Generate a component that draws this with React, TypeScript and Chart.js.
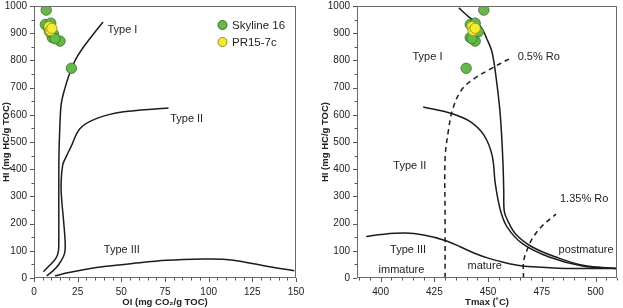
import React, { useEffect, useRef } from 'react';
import { Chart, registerables } from 'chart.js';

Chart.register(...registerables);

const FONT = '"Liberation Sans", Arial, Helvetica, sans-serif';
const INK = '#1c1c1c';
const TEXT = '#222222';
const GREEN = '#66b84a';
const GREEN_EDGE = '#3a6b28';
const YELLOW = '#f4ec2e';
const YELLOW_EDGE = '#8c8a2c';

// ---------------- Left panel: HI vs OI ----------------
const skylineOI = [7.0, 6.5, 9.6, 8.2, 11.1, 10.5, 14.9, 21.4, 9.0, 12.0];
const skylineHI = [985, 932, 937, 921, 897, 884, 871, 771, 905, 880];
const prOI = [8.6, 9.4, 10.2];
const prHI = [924, 910, 918];

const typeI_OI = [5.4, 9, 12.5, 14, 14.2, 14.2, 14.2, 14.3, 14.7, 15.6, 17.8, 20.7, 24.5, 30.3, 39.5];
const typeI_HI = [23, 47, 72, 100, 150, 250, 350, 450, 540, 640, 700, 757, 811, 866, 941];
const typeII_OI = [7.3, 11, 14, 16.8, 17.8, 17.8, 16.8, 15.9, 15.5, 16.5, 18.5, 21, 26.4, 36, 51.3, 72.4, 77];
const typeII_HI = [8, 27, 48, 78, 102, 138, 220, 284, 345, 417, 447, 480, 550, 587, 611, 623, 625];
const typeIII_OI = [12, 20, 28.3, 40, 57, 76, 97, 108, 118, 134, 149];
const typeIII_HI = [8, 20, 30, 42, 54, 65, 70, 69, 62, 42, 27];

const leftLabelText = ['Type I', 'Type II', 'Type III'];
const leftLabelOI = [50.6, 87.4, 50.3];
const leftLabelHI = [913, 585, 102];

// ---------------- Right panel: HI vs Tmax ----------------
const skylineTmax = [448, 441.7, 444, 443, 443.2, 441.7, 444, 439.8, 445.5, 442.5];
const skylineHI2 = [985, 932, 937, 921, 897, 884, 871, 771, 905, 880];
const prTmax = [442.5, 443, 444];
const prHI2 = [924, 910, 918];

const rTypeI_T = [436.4, 441, 446.4, 449.5, 451.9, 454.2, 455.8, 456.9, 457.3, 457.5, 458.9, 462.8, 470.6, 481.6, 494, 509.7, 512];
const rTypeI_HI = [993, 960, 926, 878, 829, 708, 587, 429, 320, 247, 215, 162, 114, 77, 47, 35, 35];
const rTypeII_T = [419.8, 433, 441.7, 448, 451.9, 453.4, 455.8, 458.9, 466, 478.4, 494, 509.7, 512];
const rTypeII_HI = [629, 605, 575, 526, 450, 344, 247, 187, 126, 77, 44, 35, 35];
const rTypeIII_T = [393.3, 400, 411.3, 420, 430, 437, 444, 450, 456.6, 463, 470.6, 486, 509.7, 512];
const rTypeIII_HI = [153, 160, 165, 158, 138, 115, 90, 73, 59, 48, 41, 35, 35, 35];

const ro05_T = [430, 430, 430, 431.5, 433.5, 437.5, 443, 451, 459.7];
const ro05_HI = [0, 220, 440, 540, 620, 690, 730, 768, 805];
const ro135_T = [466.5, 466.5, 468, 470.6, 475, 481.6];
const ro135_HI = [0, 60, 100, 145, 190, 235];

const rightLabelText = ['Type I', 'Type II', 'Type III', 'immature', 'mature', 'postmature', '0.5% Ro', '1.35% Ro'];
const rightLabelT = [421.8, 413.6, 412.8, 409.7, 448.4, 495.6, 473.6, 494.7];
const rightLabelHI = [811, 411, 104, 29, 44, 104, 811, 290];

const seriesNames = ['Skyline 16', 'PR15-7c'];

const leftXTicks = [0, 25, 50, 75, 100, 125, 150];
const rightXTicks = [400, 425, 450, 475, 500];
const hiTicks = [0, 100, 200, 300, 400, 500, 600, 700, 800, 900, 1000];

// ------------------------------------------------------
const zip = (xs: number[], ys: number[]) => xs.map((x, i) => ({ x, y: ys[i] }));

const pointSet = (label: string, xs: number[], ys: number[], fill: string, edge: string) => ({
  label,
  data: zip(xs, ys),
  showLine: false,
  pointRadius: 5.2,
  pointBackgroundColor: fill,
  pointBorderColor: edge,
  pointBorderWidth: 0.8,
  isPoint: true,
});

const lineSet = (label: string, xs: number[], ys: number[], dash: number[] = []) => ({
  label,
  data: zip(xs, ys),
  showLine: true,
  pointRadius: 0,
  borderColor: INK,
  borderWidth: 1.5,
  borderDash: dash,
  tension: 0.35,
  fill: false,
});

const decorPlugin = {
  id: 'decor',
  afterDatasetsDraw(chart: any) {
    const cfg = chart.options.plugins.decor;
    if (!cfg) return;
    const { ctx, chartArea: a, scales } = chart;
    const sx = scales.x;
    const sy = scales.y;
    ctx.save();
    // frame
    ctx.strokeStyle = '#6a6a6a';
    ctx.lineWidth = 1;
    ctx.strokeRect(Math.round(a.left) + 0.5, Math.round(a.top) + 0.5, Math.round(a.right - a.left) - 1, Math.round(a.bottom - a.top) - 1);
    // tick marks
    ctx.strokeStyle = '#555';
    ctx.beginPath();
    const eps = 1e-6;
    for (let v = Math.ceil(sx.min / cfg.xMinor - eps) * cfg.xMinor; v <= sx.max + eps; v += cfg.xMinor) {
      const px = Math.round(sx.getPixelForValue(v)) + 0.5;
      const r = v / cfg.xMajor;
      const major = Math.abs(r - Math.round(r)) < 1e-6;
      ctx.moveTo(px, a.bottom);
      ctx.lineTo(px, a.bottom + (major ? 4 : 2.5));
    }
    for (let v = Math.ceil(sy.min / cfg.yMinor - eps) * cfg.yMinor; v <= sy.max + eps; v += cfg.yMinor) {
      const py = Math.round(sy.getPixelForValue(v)) + 0.5;
      const r = v / cfg.yMajor;
      const major = Math.abs(r - Math.round(r)) < 1e-6;
      ctx.moveTo(a.left, py);
      ctx.lineTo(a.left - (major ? 4 : 2.5), py);
    }
    ctx.stroke();

    // annotations
    ctx.fillStyle = TEXT;
    ctx.font = `11px ${FONT}`;
    ctx.textAlign = 'center';
    ctx.textBaseline = 'middle';
    cfg.labels.text.forEach((t: string, i: number) => {
      ctx.fillText(t, sx.getPixelForValue(cfg.labels.x[i]), sy.getPixelForValue(cfg.labels.y[i]));
    });

    // axis titles
    ctx.font = `bold 9.5px ${FONT}`;
    ctx.fillText(cfg.xTitle, (a.left + a.right) / 2, cfg.xTitleY);
    ctx.save();
    ctx.translate(cfg.yTitleX, (a.top + a.bottom) / 2);
    ctx.rotate(-Math.PI / 2);
    ctx.fillText(cfg.yTitle, 0, 0);
    ctx.restore();

    // legend
    if (cfg.legend) {
      ctx.font = `11.5px ${FONT}`;
      ctx.textAlign = 'left';
      const pts = chart.data.datasets.filter((d: any) => d.isPoint);
      const order = [1, 0];
      order.forEach((di: number, row: number) => {
        const d = pts[di];
        if (!d) return;
        const cx = a.right - cfg.legend.dx;
        const cy = a.top + cfg.legend.dy + row * 17;
        ctx.beginPath();
        ctx.arc(cx, cy, 4.5, 0, Math.PI * 2);
        ctx.fillStyle = d.pointBackgroundColor;
        ctx.fill();
        ctx.strokeStyle = d.pointBorderColor;
        ctx.lineWidth = 1;
        ctx.stroke();
        ctx.fillStyle = TEXT;
        ctx.fillText(d.label, cx + 9.5, cy + 0.5);
      });
    }
    ctx.restore();
  },
};

function makeConfig(opts: any) {
  const tickFont = { family: FONT, size: 10 };
  return {
    type: 'scatter',
    data: { datasets: opts.datasets },
    options: {
      animation: false,
      responsive: false,
      maintainAspectRatio: false,
      events: [],
      layout: { padding: { left: 0, top: 3, right: opts.padRight, bottom: 0 } },
      plugins: {
        legend: { display: false },
        tooltip: { enabled: false },
        decor: opts.decor,
      },
      scales: {
        x: {
          type: 'linear',
          min: opts.xMin,
          max: opts.xMax,
          border: { display: false },
          grid: { display: true, drawOnChartArea: false, drawTicks: true, tickLength: 4, color: 'rgba(0,0,0,0)' },
          ticks: {
            autoSkip: false,
            maxRotation: 0,
            padding: 4,
            color: TEXT,
            font: tickFont,
            callback: (v: number) => String(v),
          },
          afterBuildTicks: (s: any) => {
            s.ticks = opts.xTicks.map((v: number) => ({ value: v }));
          },
          afterFit: (s: any) => {
            s.height = 30;
            s.paddingLeft = 0;
            s.paddingRight = 0;
          },
        },
        y: {
          type: 'linear',
          min: 0,
          max: 1000,
          border: { display: false },
          grid: { display: true, drawOnChartArea: false, drawTicks: true, tickLength: 4, color: 'rgba(0,0,0,0)' },
          ticks: {
            autoSkip: false,
            padding: 3,
            color: TEXT,
            font: tickFont,
            callback: (v: number) => String(v),
          },
          afterBuildTicks: (s: any) => {
            s.ticks = hiTicks.map((v: number) => ({ value: v }));
          },
          afterFit: (s: any) => {
            s.width = opts.yWidth;
            s.paddingTop = 0;
            s.paddingBottom = 0;
          },
        },
      },
    },
    plugins: [decorPlugin],
  };
}

function Panel({ left, width, config }: { left: number; width: number; config: any }) {
  const ref = useRef<HTMLCanvasElement>(null);
  useEffect(() => {
    if (!ref.current) return;
    const chart = new Chart(ref.current, config);
    return () => chart.destroy();
  }, []);
  return (
    <canvas
      ref={ref}
      width={width}
      height={308}
      style={{ position: 'absolute', left, top: 0, width, height: 308 }}
    />
  );
}

export default function App() {
  const leftConfig = makeConfig({
    xMin: 0,
    xMax: 150,
    xTicks: leftXTicks,
    padRight: 15,
    yWidth: 34,
    datasets: [
      pointSet(seriesNames[1], prOI, prHI, YELLOW, YELLOW_EDGE),
      pointSet(seriesNames[0], skylineOI, skylineHI, GREEN, GREEN_EDGE),
      lineSet('Type I', typeI_OI, typeI_HI),
      lineSet('Type II', typeII_OI, typeII_HI),
      lineSet('Type III', typeIII_OI, typeIII_HI),
    ],
    decor: {
      xMinor: 5,
      xMajor: 25,
      yMinor: 50,
      yMajor: 100,
      xTitle: 'OI (mg CO\u2082/g TOC)',
      yTitle: 'HI (mg HC/g TOC)',
      xTitleY: 302,
      yTitleX: 6,
      labels: { text: leftLabelText, x: leftLabelOI, y: leftLabelHI },
      legend: { dx: 73.5, dy: 19 },
    },
  });

  const rightConfig = makeConfig({
    xMin: 389,
    xMax: 510,
    xTicks: rightXTicks,
    padRight: 3,
    yWidth: 46,
    datasets: [
      pointSet(seriesNames[1], prTmax, prHI2, YELLOW, YELLOW_EDGE),
      pointSet(seriesNames[0], skylineTmax, skylineHI2, GREEN, GREEN_EDGE),
      lineSet('Type I', rTypeI_T, rTypeI_HI),
      lineSet('Type II', rTypeII_T, rTypeII_HI),
      lineSet('Type III', rTypeIII_T, rTypeIII_HI),
      lineSet('0.5% Ro', ro05_T, ro05_HI, [5, 4]),
      lineSet('1.35% Ro', ro135_T, ro135_HI, [5, 4]),
    ],
    decor: {
      xMinor: 5,
      xMajor: 25,
      yMinor: 50,
      yMajor: 100,
      xTitle: 'Tmax (\u02DAC)',
      yTitle: 'HI (mg HC/g TOC)',
      xTitleY: 302,
      yTitleX: 14,
      labels: { text: rightLabelText, x: rightLabelT, y: rightLabelHI },
      legend: null,
    },
  });

  return (
    <div style={{ position: 'fixed', left: 0, top: 0, width: 623, height: 308, background: '#fff' }}>
      <Panel left={0} width={311} config={leftConfig} />
      <Panel left={311} width={312} config={rightConfig} />
    </div>
  );
}
